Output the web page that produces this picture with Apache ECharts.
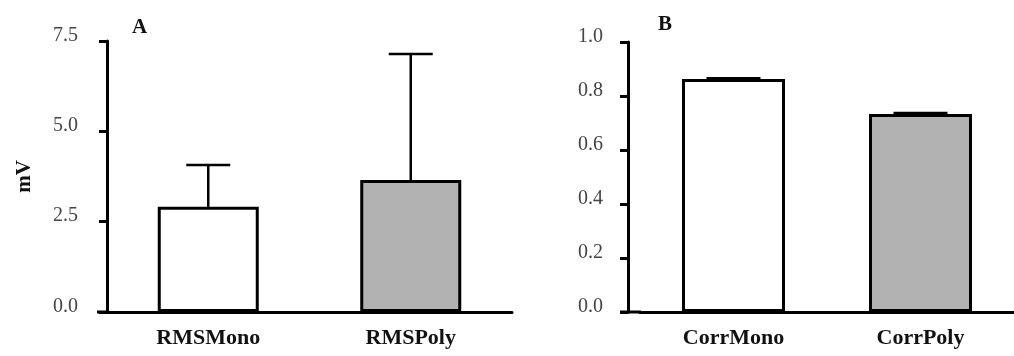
<!DOCTYPE html>
<html>
<head>
<meta charset="utf-8">
<script src="https://cdn.jsdelivr.net/npm/echarts@6/dist/echarts.min.js"></script>
<style>html,body{margin:0;padding:0;background:#fff}#c{width:1014px;height:356px}</style>
</head>
<body>
<div id="c"></div>
<script>
const catsA = ['RMSMono', 'RMSPoly'];
const valsA = [2.91, 3.65];
const errA = [1.16, 3.49];
const catsB = ['CorrMono', 'CorrPoly'];
const valsB = [0.863, 0.733];
const errB = [0.003, 0.004];
const barColors = ['#ffffff', '#b2b2b2'];
const yTicksA = { min: 0, max: 7.5, interval: 2.5 };
const yTicksB = { min: 0, max: 1.0, interval: 0.2 };

const FONT = 'Liberation Serif';
const chart = echarts.init(document.getElementById('c'));

function errSeries(idx, vals, errs, cap) {
  return {
    type: 'custom', xAxisIndex: idx, yAxisIndex: idx, z: 1,
    data: vals.map((v, i) => [i, v, errs[i]]),
    renderItem: function (params, api) {
      const x = api.value(0), y = api.value(1), e = api.value(2);
      const p0 = api.coord([x, y]);
      const p1 = api.coord([x, y + e]);
      const hw = cap / 2;
      const st = { stroke: '#000', lineWidth: 2.5 };
      return { type: 'group', children: [
        { type: 'line', shape: { x1: p0[0], y1: p0[1], x2: p1[0], y2: p1[1] }, style: st },
        { type: 'line', shape: { x1: p1[0] - hw, y1: p1[1], x2: p1[0] + hw, y2: p1[1] }, style: st }
      ]};
    }
  };
}

function barSeries(idx, vals, width) {
  return {
    type: 'bar', xAxisIndex: idx, yAxisIndex: idx, z: 2, barWidth: width,
    data: vals.map((v, i) => ({ value: v, itemStyle: { color: barColors[i] } })),
    itemStyle: { borderColor: '#000', borderWidth: 3 },
    emphasis: { disabled: true }
  };
}

const xAxisBase = {
  type: 'category',
  axisLine: { lineStyle: { color: '#000', width: 3 } },
  axisTick: { alignWithLabel: true, length: 10, lineStyle: { color: '#000', width: 3 } },
  axisLabel: { fontFamily: FONT, fontWeight: 'bold', fontSize: 22, color: '#111', margin: 15 }
};
const yAxisBase = {
  type: 'value',
  splitLine: { show: false },
  axisLine: { show: true, lineStyle: { color: '#000', width: 3 } },
  axisTick: { show: true, length: 8, lineStyle: { color: '#000', width: 3 } }
};

chart.setOption({
  animation: false,
  title: [
    { text: 'A', left: 127, top: 12, textStyle: { fontFamily: FONT, fontWeight: 'bold', fontSize: 21, color: '#111' } },
    { text: 'B', left: 653, top: 9, textStyle: { fontFamily: FONT, fontWeight: 'bold', fontSize: 21, color: '#111' } }
  ],
  grid: [
    { left: 107, right: 502, top: 41, bottom: 44 },
    { left: 640, width: 378, top: 42, bottom: 44 }
  ],
  xAxis: [
    Object.assign({}, xAxisBase, { gridIndex: 0, data: catsA }),
    Object.assign({}, xAxisBase, { gridIndex: 1, data: catsB })
  ],
  yAxis: [
    Object.assign({}, yAxisBase, {
      gridIndex: 0, min: yTicksA.min, max: yTicksA.max, interval: yTicksA.interval,
      name: 'mV', nameLocation: 'middle', nameGap: 72, nameRotate: 90,
      nameTextStyle: { fontFamily: FONT, fontWeight: 'bold', fontSize: 21, color: '#111' },
      axisLabel: { fontFamily: FONT, fontSize: 20, color: '#444', margin: 29, verticalAlign: 'bottom', lineHeight: 11,
        formatter: v => v.toFixed(1) }
    }),
    Object.assign({}, yAxisBase, {
      gridIndex: 1, offset: 12, min: yTicksB.min, max: yTicksB.max, interval: yTicksB.interval,
      axisLabel: { fontFamily: FONT, fontSize: 20, color: '#444', margin: 25, verticalAlign: 'bottom', lineHeight: 11,
        formatter: v => v.toFixed(1) }
    })
  ],
  graphic: [
    { type: 'line', shape: { x1: 97, y1: 312, x2: 108, y2: 312 }, style: { stroke: '#000', lineWidth: 3 } },
    { type: 'line', shape: { x1: 620, y1: 312, x2: 641, y2: 312 }, style: { stroke: '#000', lineWidth: 3 } }
  ],
  series: [
    errSeries(0, valsA, errA, 44),
    barSeries(0, valsA, 101),
    errSeries(1, valsB, errB, 54),
    barSeries(1, valsB, 103)
  ]
});
</script>
</body>
</html>
